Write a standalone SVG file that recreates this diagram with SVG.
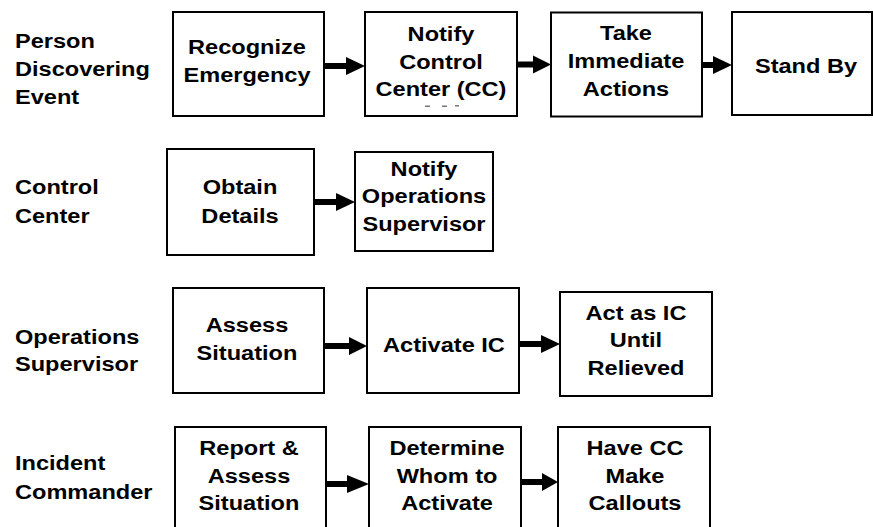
<svg xmlns="http://www.w3.org/2000/svg" width="873" height="527" viewBox="0 0 873 527">
<defs>
<style>
.box{fill:#fff;stroke:#000;stroke-width:2}
.t{font-family:"Liberation Sans",Arial,sans-serif;font-weight:bold;font-size:20.5px;fill:#000}
.c{text-anchor:middle}
.shaft{stroke:#000;stroke-width:6;fill:none}
.head{fill:#000}
</style>
</defs>
<rect width="873" height="527" fill="#fff"/>

<g id="lane-labels">
<text class="t" transform="translate(15,0) scale(1.15,1)"><tspan x="0" y="48">Person</tspan><tspan x="0" y="76">Discovering</tspan><tspan x="0" y="104">Event</tspan></text>
<text class="t" transform="translate(15,0) scale(1.15,1)"><tspan x="0" y="194">Control</tspan><tspan x="0" y="223">Center</tspan></text>
<text class="t" transform="translate(15,0) scale(1.15,1)"><tspan x="0" y="344">Operations</tspan><tspan x="0" y="371">Supervisor</tspan></text>
<text class="t" transform="translate(15,0) scale(1.15,1)"><tspan x="0" y="470">Incident</tspan><tspan x="0" y="499">Commander</tspan></text>
</g>

<g id="connectors">
<line class="shaft" x1="325" y1="66" x2="348" y2="66"/><polygon class="head" points="346,57 365,66 346,75"/>
<line class="shaft" x1="518" y1="64.5" x2="535" y2="64.5"/><polygon class="head" points="533,55.5 551,64.5 533,73.5"/>
<line class="shaft" x1="703" y1="65" x2="715" y2="65"/><polygon class="head" points="713,56 732,65 713,74"/>
<line class="shaft" x1="315" y1="202" x2="338" y2="202"/><polygon class="head" points="336,193 355,202 336,211"/>
<line class="shaft" x1="325" y1="346" x2="351" y2="346"/><polygon class="head" points="349,337 367,346 349,355"/>
<line class="shaft" x1="520" y1="344" x2="543" y2="344"/><polygon class="head" points="541,335 560,344 541,353"/>
<line class="shaft" x1="327" y1="484" x2="349" y2="484"/><polygon class="head" points="347,475 369,484 347,493"/>
<line class="shaft" x1="522" y1="482" x2="544" y2="482"/><polygon class="head" points="542,473 558,482 542,491"/>
</g>

<g id="recognize">
<rect class="box" x="173" y="12" width="151" height="104"/>
<text class="t c" transform="translate(247,0) scale(1.15,1)"><tspan x="0" y="54">Recognize</tspan><tspan x="0" y="82">Emergency</tspan></text>
</g>
<g id="notify-cc">
<rect class="box" x="365" y="12" width="152" height="104"/>
<text class="t c" transform="translate(441,0) scale(1.15,1)"><tspan x="0" y="41">Notify</tspan><tspan x="0" y="69">Control</tspan><tspan x="0" y="96">Center (CC)</tspan></text>
<g fill="#777"><rect x="425" y="105.5" width="5" height="1.5"/><rect x="442" y="105.5" width="5" height="1.5"/><rect x="455" y="105" width="4" height="1.5"/></g>
</g>
<g id="take-actions">
<rect class="box" x="551" y="12.5" width="151" height="104"/>
<text class="t c" transform="translate(626,0) scale(1.15,1)"><tspan x="0" y="40">Take</tspan><tspan x="0" y="68">Immediate</tspan><tspan x="0" y="96.5">Actions</tspan></text>
</g>
<g id="stand-by">
<rect class="box" x="732" y="12" width="140" height="103"/>
<text class="t c" transform="translate(806,0) scale(1.15,1)"><tspan x="0" y="73">Stand By</tspan></text>
</g>

<g id="obtain-details">
<rect class="box" x="167" y="149" width="147" height="106"/>
<text class="t c" transform="translate(240,0) scale(1.15,1)"><tspan x="0" y="194">Obtain</tspan><tspan x="0" y="223">Details</tspan></text>
</g>
<g id="notify-ops">
<rect class="box" x="355" y="152" width="138" height="99"/>
<text class="t c" transform="translate(424,0) scale(1.15,1)"><tspan x="0" y="176">Notify</tspan><tspan x="0" y="203.5">Operations</tspan><tspan x="0" y="231">Supervisor</tspan></text>
</g>

<g id="assess">
<rect class="box" x="173" y="288" width="151" height="105"/>
<text class="t c" transform="translate(247,0) scale(1.15,1)"><tspan x="0" y="332">Assess</tspan><tspan x="0" y="360">Situation</tspan></text>
</g>
<g id="activate-ic">
<rect class="box" x="367" y="288" width="152" height="105"/>
<text class="t c" transform="translate(444,0) scale(1.15,1)"><tspan x="0" y="352">Activate IC</tspan></text>
</g>
<g id="act-as-ic">
<rect class="box" x="560" y="292" width="152" height="104"/>
<text class="t c" transform="translate(636,0) scale(1.15,1)"><tspan x="0" y="320">Act as IC</tspan><tspan x="0" y="347.5">Until</tspan><tspan x="0" y="375">Relieved</tspan></text>
</g>

<g id="report-assess">
<rect class="box" x="175" y="427" width="151" height="110"/>
<text class="t c" transform="translate(249,0) scale(1.15,1)"><tspan x="0" y="455">Report &amp;</tspan><tspan x="0" y="483">Assess</tspan><tspan x="0" y="510">Situation</tspan></text>
</g>
<g id="determine">
<rect class="box" x="369" y="427" width="152" height="110"/>
<text class="t c" transform="translate(447,0) scale(1.15,1)"><tspan x="0" y="455">Determine</tspan><tspan x="0" y="483">Whom to</tspan><tspan x="0" y="510">Activate</tspan></text>
</g>
<g id="have-cc">
<rect class="box" x="558" y="427" width="152" height="110"/>
<text class="t c" transform="translate(635,0) scale(1.15,1)"><tspan x="0" y="455">Have CC</tspan><tspan x="0" y="483">Make</tspan><tspan x="0" y="510">Callouts</tspan></text>
</g>
</svg>
